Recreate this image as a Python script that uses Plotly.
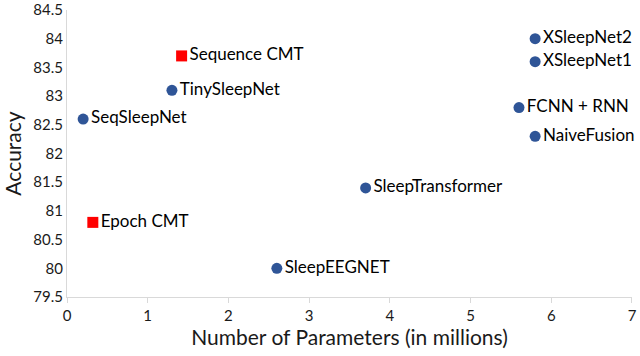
import plotly.graph_objects as go

# models from the literature (blue) and the proposed CMT models (red)
other_names = ["SeqSleepNet", "TinySleepNet", "SleepEEGNET", "SleepTransformer",
               "XSleepNet2", "XSleepNet1", "FCNN + RNN", "NaiveFusion"]
other_params = [0.2, 1.3, 2.6, 3.7, 5.8, 5.8, 5.6, 5.8]
other_acc = [82.6, 83.1, 80.0, 81.4, 84.0, 83.6, 82.8, 82.3]

cmt_names = ["Sequence CMT", "Epoch CMT"]
cmt_params = [1.42, 0.32]
cmt_acc = [83.7, 80.8]

x_ticks = [0, 1, 2, 3, 4, 5, 6, 7]
y_ticks = [79.5, 80, 80.5, 81, 81.5, 82, 82.5, 83, 83.5, 84, 84.5]

font = "Lato, sans-serif"

fig = go.Figure()
fig.add_trace(go.Scatter(
    x=other_params, y=other_acc, text=other_names, mode="markers+text",
    textposition="middle right", cliponaxis=False,
    marker=dict(color="#2F5597", size=11, symbol="circle"),
    textfont=dict(size=17, color="black", family=font),
))
fig.add_trace(go.Scatter(
    x=cmt_params, y=cmt_acc, text=cmt_names, mode="markers+text",
    textposition="middle right", cliponaxis=False,
    marker=dict(color="#FF0000", size=11, symbol="square"),
    textfont=dict(size=17, color="black", family=font),
))

fig.update_layout(
    width=640, height=356,
    margin=dict(l=67, r=8, t=10, b=59),
    plot_bgcolor="white", paper_bgcolor="white",
    showlegend=False,
    font=dict(family=font, size=15, color="#1a1a1a"),
)
fig.update_xaxes(
    range=[0, 7.0001], tickvals=x_ticks, showgrid=False, zeroline=False,
    showline=True, linecolor="#D9D9D9", ticks="outside", tickcolor="#D9D9D9",
    ticklen=5, automargin=False, ticklabeloverflow="allow",
    title=dict(text="Number of Parameters (in millions)",
               font=dict(size=21, color="#1a1a1a"), standoff=6),
)
fig.update_yaxes(
    range=[79.5, 84.5001], tickvals=y_ticks, ticktext=[f"{v:g}" for v in y_ticks],
    showgrid=False, zeroline=False, automargin=False, ticklabeloverflow="allow",
    showline=True, linecolor="#D9D9D9", ticks="",
    title=dict(text="Accuracy", font=dict(size=21, color="#1a1a1a"), standoff=6),
)

# drop the default 8px body margin so the figure fills the window
fig.write_html("out.html", config={"displayModeBar": False},
               post_script="document.body.style.margin='0';")
